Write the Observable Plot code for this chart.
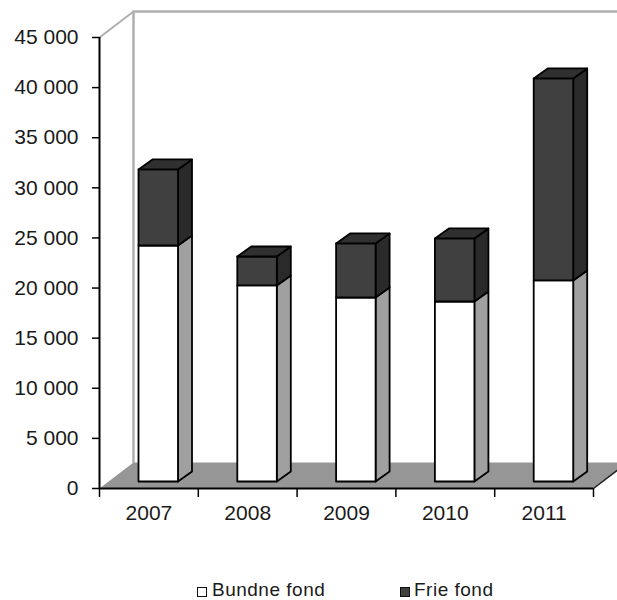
<!DOCTYPE html>
<html>
<head>
<meta charset="utf-8">
<script src="https://cdn.jsdelivr.net/npm/d3@7"></script>
<script src="https://cdn.jsdelivr.net/npm/@observablehq/plot@0.6"></script>
<style>
html,body{margin:0;padding:0;background:#fff;overflow:hidden}
#legend{position:relative;height:30px;font:19px "Liberation Sans",Arial,sans-serif;color:#1a1a1a;letter-spacing:.5px}
#legend span{position:absolute;top:11px;line-height:18px;white-space:nowrap}
#legend i{position:absolute;top:17px;width:8px;height:8px;border:1.6px solid #111;box-sizing:content-box}
</style>
</head>
<body>
<div id="chart"></div>
<div id="legend"></div>
<script>
const years = ["2007", "2008", "2009", "2010", "2011"];
const bundne = [23550, 19560, 18360, 17960, 20060];
const frie = [7590, 2890, 5390, 6290, 20160];
const yTicks = [0, 5000, 10000, 15000, 20000, 25000, 30000, 35000, 40000, 45000];
const seriesNames = ["Bundne fond", "Frie fond"];

const pxX = 98.8 / 1, pxY = 10.022 / 1000;
const depthX = 34 / pxX, depthY = 26 / pxY;          // wall / floor depth
const barDX = 14 / pxX, barDY = 10 / pxY;            // bar depth
const barBase = 7 / pxY;                             // bars stand inside the floor
const barLeft = 39 / pxX, barW = 39.5 / pxX;
const nCat = years.length, yMax = 45000;

const faces = [];
let faceId = 0;
function face(points, fill, stroke) {
  faceId++;
  for (const [x, y] of points) faces.push({id: faceId, x, y, fill, stroke});
}
years.forEach((_, i) => {
  const x1 = i + barLeft, x2 = x1 + barW;
  const y0 = barBase, y1 = y0 + bundne[i], y2 = y1 + frie[i];
  const box = (a, b, front, side, roof) => {
    face([[x2,a],[x2+barDX,a+barDY],[x2+barDX,b+barDY],[x2,b]], side, "#000");
    face([[x1,a],[x2,a],[x2,b],[x1,b]], front, "#000");
    if (roof) face([[x1,b],[x2,b],[x2+barDX,b+barDY],[x1+barDX,b+barDY]], roof, "#000");
  };
  box(y0, y1, "#ffffff", "#a0a0a0", null);
  box(y1, y2, "#404040", "#2a2a2a", "#303030");
});

const plot = Plot.plot({
  width: 617, height: 570,
  marginLeft: 99, marginRight: 24, marginTop: 37, marginBottom: 82,
  style: {fontFamily: '"Liberation Sans",Arial,sans-serif', fontSize: "21px", color: "#1a1a1a", background: "#fff"},
  x: {domain: [0, nCat], axis: null},
  y: {domain: [0, yMax], axis: null},
  color: {type: "identity"},
  marks: [
    // back wall edges
    Plot.line([[depthX, depthY],[depthX, yMax + depthY],[nCat + depthX, yMax + depthY]], {stroke: "#b0b0b0", strokeWidth: 2.5}),
    Plot.line([[0, yMax],[depthX, yMax + depthY]], {stroke: "#b0b0b0", strokeWidth: 2}),
    // floor
    Plot.line([[0,0],[nCat,0],[nCat+depthX,depthY],[depthX,depthY]], {fill: "#969696", curve: "linear-closed"}),
    Plot.line([[nCat,0],[nCat+depthX,depthY]], {stroke: "#222", strokeWidth: 1.5}),
    // axes
    Plot.ruleX([0], {y1: 0, y2: yMax, stroke: "#000", strokeWidth: 2}),
    Plot.ruleY([0], {x1: 0, x2: nCat, stroke: "#000", strokeWidth: 2}),
    Plot.axisY({
      ticks: yTicks, tickSize: 7, tickPadding: 14, label: null, stroke: "#000", strokeWidth: 1.5,
      tickFormat: d => d3.format(",")(d).replace(",", " "),
      fontSize: 21
    }),
    Plot.axisX({ticks: d3.range(nCat + 1), tickSize: 9, tickFormat: () => "", label: null, stroke: "#000", strokeWidth: 1.5}),
    Plot.text(years, {x: (d, i) => i + 0.5, y: () => 0, text: d => d, dy: 25, fontSize: 21, fill: "#1a1a1a"}),
    // bars
    Plot.line(faces, {x: "x", y: "y", z: "id", fill: "fill", stroke: "stroke", strokeWidth: 1.8, strokeLinejoin: "round", curve: "linear-closed"})
  ]
});
document.getElementById("chart").appendChild(plot);
plot.style.display = "block";

const legend = document.getElementById("legend");
[[197, 212, "#fff"], [400, 414, "#404040"]].forEach(([sx, tx, col], i) => {
  const sw = document.createElement("i");
  sw.style.left = sx + "px";
  sw.style.background = col;
  const t = document.createElement("span");
  t.style.left = tx + "px";
  t.textContent = seriesNames[i];
  legend.append(sw, t);
});
</script>
</body>
</html>
